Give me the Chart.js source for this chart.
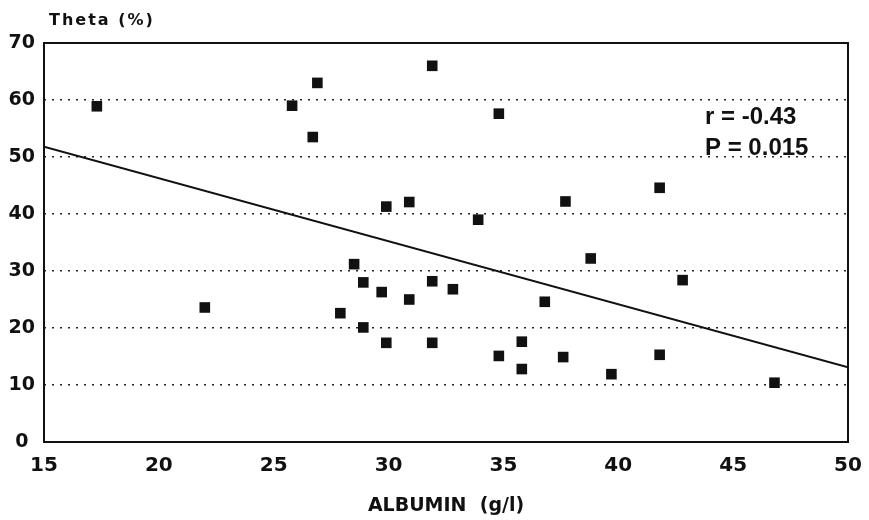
<!DOCTYPE html>
<html>
<head>
<meta charset="utf-8">
<title>Theta vs Albumin</title>
<script src="https://cdn.jsdelivr.net/npm/chart.js@4.4.1/dist/chart.umd.min.js"></script>
<style>
  html, body { margin: 0; padding: 0; background: #fff; }
  #wrap { width: 869px; height: 520px; position: relative; }
</style>
</head>
<body>
<div id="wrap"><canvas id="grafico"></canvas></div>
<script>
// Valores (albúmina g/l, theta %).
const albumina = [
    17.3, 25.8, 26.9, 26.7, 31.9, 29.9, 30.9,
    34.8, 33.9, 37.7, 41.8, 38.8,
    22.0, 28.5, 28.9, 29.7, 30.9, 31.9, 27.9, 28.9, 29.9, 31.9,
    32.8, 36.8, 42.8, 35.8, 34.8, 35.8, 37.6, 41.8, 39.7, 46.8,
];
const theta = [
    58.9, 59.0, 63.0, 53.5, 66.0, 41.3, 42.1,
    57.6, 39.0, 42.2, 44.6, 32.2,
    23.6, 31.2, 28.0, 26.3, 25.0, 28.2, 22.6, 20.1, 17.4, 17.4,
    26.8, 24.6, 28.4, 17.6, 15.1, 12.8, 14.9, 15.3, 11.9, 10.4,
];

// Recta de regresión (extremos).
const rectaX = [15, 50];
const rectaY = [51.8, 13.1];

const ejeX = { min: 15, max: 50, paso: 5 };
const ejeY = { min: 0, max: 70, paso: 10 };

const tituloY = 'Theta (%)';
const tituloX = 'ALBUMIN  (g/l)';
const anotaciones = ['r = -0.43', 'P = 0.015'];

const FUENTE = '"DejaVu Sans", sans-serif';

// Marco del área de datos, título vertical y anotación r / P.
const decoracion = {
    id: 'decoracion',
    afterDatasetsDraw(chart) {
        const { ctx, chartArea: a } = chart;
        ctx.save();
        ctx.strokeStyle = '#111';
        ctx.lineWidth = 2;
        ctx.strokeRect(a.left, a.top, a.right - a.left, a.bottom - a.top);

        ctx.fillStyle = '#111';
        ctx.textBaseline = 'alphabetic';
        ctx.textAlign = 'left';
        ctx.font = 'bold 16px ' + FUENTE;
        ctx.letterSpacing = '2px';
        ctx.fillText(tituloY, 49, 25);

        ctx.letterSpacing = '0px';
        ctx.font = 'bold 24px "Liberation Sans", Arial, sans-serif';
        ctx.fillText(anotaciones[0], 705, 124);
        ctx.fillText(anotaciones[1], 705, 155);
        ctx.restore();
    },
};

new Chart(document.getElementById('grafico'), {
    type: 'scatter',
    data: {
        datasets: [
            {
                label: 'Pacientes',
                data: albumina.map((x, i) => ({ x, y: theta[i] })),
                pointStyle: 'rect',
                pointRadius: 7.5,
                pointHoverRadius: 7.5,
                backgroundColor: '#111',
                borderWidth: 0,
            },
            {
                label: 'Regresión',
                data: rectaX.map((x, i) => ({ x, y: rectaY[i] })),
                showLine: true,
                pointRadius: 0,
                borderColor: '#111',
                borderWidth: 2,
            },
        ],
    },
    options: {
        responsive: true,
        maintainAspectRatio: false,
        animation: false,
        layout: { padding: { top: 43, right: 21, left: 0, bottom: 0 } },
        plugins: {
            legend: { display: false },
            tooltip: { enabled: false },
        },
        scales: {
            x: {
                type: 'linear',
                min: ejeX.min,
                max: ejeX.max,
                border: { display: false },
                grid: { display: false, drawTicks: false },
                ticks: {
                    stepSize: ejeX.paso,
                    color: '#111',
                    padding: 12,
                    font: { family: FUENTE, size: 20, weight: 'bold' },
                },
                title: {
                    display: true,
                    text: tituloX,
                    color: '#111',
                    font: { family: FUENTE, size: 19, weight: 'bold' },
                    padding: { top: 0, bottom: 3 },
                },
                afterFit(scale) {
                    scale.height = 78;
                    // El margen lo fija layout.padding, no la mitad de la última etiqueta.
                    scale.paddingLeft = 0;
                    scale.paddingRight = 0;
                },
            },
            y: {
                min: ejeY.min,
                max: ejeY.max,
                // En Chart.js v4 el trazo de la rejilla se define en border.dash.
                border: { display: false, dash: [2, 6] },
                grid: {
                    drawTicks: false,
                    color: (c) => (c.tick.value === ejeY.min || c.tick.value === ejeY.max ? 'rgba(0,0,0,0)' : '#222'),
                    lineWidth: 1.5,
                },
                ticks: {
                    stepSize: ejeY.paso,
                    color: '#111',
                    crossAlign: 'center',
                    padding: 9,
                    font: { family: FUENTE, size: 19, weight: 'bold' },
                },
                afterFit(scale) { scale.width = 44; },
            },
        },
    },
    plugins: [decoracion],
});
</script>
</body>
</html>
